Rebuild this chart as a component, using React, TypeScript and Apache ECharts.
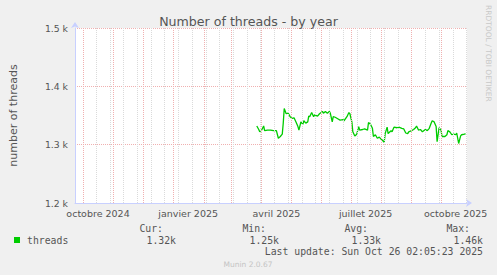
import React, { useEffect, useRef } from "react";
import * as echarts from "echarts";

const TITLE = "Number of threads - by year";
const Y_NAME = "number of threads";
const X_MIN = "2024-09-22T12:00:00";
const X_MAX = "2025-10-27T12:00:00";
const Y_TICKS = [1200, 1300, 1400, 1500];

const LABEL_DATES = ["2024-10-16", "2025-01-16", "2025-04-16", "2025-07-16", "2025-10-16"];
const LABEL_TEXTS = ["octobre 2024", "janvier 2025", "avril 2025", "juillet 2025", "octobre 2025"];

const MONTH_STARTS = [
  "2024-10-01", "2024-11-01", "2024-12-01", "2025-01-01", "2025-02-01", "2025-03-01",
  "2025-04-01", "2025-05-01", "2025-06-01", "2025-07-01", "2025-08-01", "2025-09-01", "2025-10-01",
];
const MINOR_START = "2024-10-14";

const DATES = [
  "2025-03-27", "2025-03-29", "2025-03-30", "2025-04-01", "2025-04-03", "2025-04-04", "2025-04-07",
  "2025-04-10", "2025-04-13", "2025-04-16", "2025-04-18", "2025-04-20", "2025-04-22", "2025-04-23",
  "2025-04-24", "2025-04-26", "2025-04-28", "2025-04-30", "2025-05-02", "2025-05-04", "2025-05-06",
  "2025-05-08", "2025-05-09", "2025-05-11", "2025-05-13", "2025-05-14", "2025-05-16", "2025-05-18",
  "2025-05-19", "2025-05-20", "2025-05-22", "2025-05-24", "2025-05-25", "2025-05-28", "2025-05-30",
  "2025-06-02", "2025-06-03", "2025-06-05", "2025-06-07", "2025-06-09", "2025-06-10", "2025-06-12",
  "2025-06-13", "2025-06-15", "2025-06-18", "2025-06-20", "2025-06-23", "2025-06-24", "2025-06-27",
  "2025-06-29", "2025-06-30", "2025-07-02", "2025-07-03", "2025-07-05", "2025-07-07", "2025-07-09",
  "2025-07-10", "2025-07-13", "2025-07-15", "2025-07-18", "2025-07-19", "2025-07-21", "2025-07-23",
  "2025-07-24", "2025-07-26", "2025-07-28", "2025-07-30", "2025-08-01", "2025-08-02", "2025-08-04",
  "2025-08-05", "2025-08-07", "2025-08-08", "2025-08-11", "2025-08-12", "2025-08-14", "2025-08-17",
  "2025-08-19", "2025-08-22", "2025-08-24", "2025-08-26", "2025-08-28", "2025-08-29", "2025-09-01",
  "2025-09-03", "2025-09-05", "2025-09-06", "2025-09-08", "2025-09-10", "2025-09-12", "2025-09-15",
  "2025-09-17", "2025-09-19", "2025-09-21", "2025-09-22", "2025-09-24", "2025-09-26", "2025-09-27",
  "2025-09-29", "2025-10-01", "2025-10-02", "2025-10-05", "2025-10-07", "2025-10-08", "2025-10-10",
  "2025-10-12", "2025-10-14", "2025-10-16", "2025-10-17", "2025-10-19", "2025-10-21", "2025-10-22",
  "2025-10-25", "2025-10-26",
];

const THREADS = [
  1332, 1326, 1322, 1325, 1332, 1324, 1325,
  1325, 1324, 1324, 1311, 1314, 1318, 1337,
  1362, 1353, 1354, 1348, 1345, 1346, 1339,
  1331, 1325, 1339, 1335, 1341, 1337, 1339,
  1349, 1348, 1355, 1348, 1351, 1349, 1353,
  1357, 1354, 1357, 1354, 1357, 1354, 1339,
  1348, 1347, 1344, 1342, 1343, 1341, 1348,
  1355, 1353, 1339, 1322, 1315, 1318, 1331,
  1325, 1326, 1327, 1325, 1338, 1335, 1328,
  1314, 1317, 1311, 1313, 1309, 1308, 1304,
  1319, 1330, 1319, 1324, 1322, 1330, 1329,
  1330, 1328, 1327, 1320, 1319, 1322, 1324,
  1326, 1329, 1332, 1325, 1326, 1322, 1326,
  1324, 1328, 1337, 1341, 1339, 1331, 1305,
  1329, 1325, 1314, 1314, 1317, 1324, 1322,
  1317, 1318, 1317, 1320, 1302, 1315, 1317,
  1318, 1319,
];

const LEGEND_NAME = "threads";
const STAT_HEADS = ["Cur:", "Min:", "Avg:", "Max:"];
const STAT_VALUES = ["1.32k", "1.25k", "1.33k", "1.46k"];
const LAST_UPDATE = "Last update: Sun Oct 26 02:05:23 2025";
const FOOTER = "Munin 2.0.67";
const WATERMARK = "RRDTOOL / TOBI OETIKER";

const toTs = (d: string) => new Date(d.length === 10 ? d + "T00:00:00" : d).getTime();

export default function App() {
  const ref = useRef<HTMLDivElement>(null);

  useEffect(() => {
    document.body.style.margin = "0";
    if (!ref.current) return;
    const chart = echarts.init(ref.current, null, { renderer: "svg" });

    const labelTs = LABEL_DATES.map(toTs);
    const minor: number[] = [];
    const day = 86400000;
    for (let t = toTs(MINOR_START); t < toTs(X_MAX); t += 14 * day) minor.push(t);

    const font = "DejaVu Sans";
    const mono = "DejaVu Sans Mono";
    const textColor = "#555555";
    const axisColor = "#c8d0ff";
    const red = "#f0b0b0";
    const grey = "#dadada";

    const statX = [163, 266, 368, 470];
    const valX = [176, 279, 381, 483];

    const graphics: any[] = [
      { type: "rect", shape: { x: 14, y: 237, width: 6, height: 6 }, style: { fill: "#00cc00" } },
      {
        type: "text",
        style: { text: LEGEND_NAME, x: 27, y: 240, font: `9.8px "${mono}"`, fill: textColor, verticalAlign: "middle" },
      },
      {
        type: "text",
        style: { text: LAST_UPDATE, x: 483, y: 251.5, font: `9.8px "${mono}"`, fill: textColor, align: "right", verticalAlign: "middle" },
      },
      {
        type: "text",
        style: { text: FOOTER, x: 248, y: 264.5, font: `7.5px "${font}"`, fill: "#c4c4c4", align: "center", verticalAlign: "middle" },
      },
      {
        type: "text",
        x: 488,
        y: 5,
        rotation: -Math.PI / 2,
        style: { text: WATERMARK, x: 0, y: 0, font: `7.5px "${font}"`, fill: "#c8c8c8", align: "left", verticalAlign: "middle" },
      },
    ];
    STAT_HEADS.forEach((h, i) => {
      graphics.push({
        type: "text",
        style: { text: h, x: statX[i], y: 228, font: `9.8px "${mono}"`, fill: textColor, align: "right", verticalAlign: "middle" },
      });
      graphics.push({
        type: "text",
        style: { text: STAT_VALUES[i], x: valX[i], y: 240, font: `9.8px "${mono}"`, fill: textColor, align: "right", verticalAlign: "middle" },
      });
    });

    chart.setOption({
      animation: false,
      backgroundColor: "#f0f0f0",
      textStyle: { fontFamily: font },
      title: {
        text: TITLE,
        left: "center",
        top: 10,
        textStyle: { fontFamily: font, fontSize: 12.6, fontWeight: "normal", color: textColor },
      },
      grid: {
        left: 67,
        top: 28,
        width: 400,
        height: 175,
        show: true,
        backgroundColor: "#ffffff",
        borderWidth: 0,
        containLabel: false,
      },
      xAxis: {
        type: "value",
        min: toTs(X_MIN),
        max: toTs(X_MAX),
        axisLine: {
          show: true,
          onZero: false,
          lineStyle: { color: axisColor, width: 1 },
          symbol: ["none", "arrow"],
          symbolSize: [6, 6],
          symbolOffset: [0, 5],
        },
        axisTick: { show: false },
        splitLine: { show: false },
        axisLabel: {
          customValues: labelTs,
          showMinLabel: true,
          showMaxLabel: true,
          hideOverlap: false,
          margin: 5,
          fontSize: 9.5,
          color: textColor,
          fontFamily: font,
          formatter: (v: number) => {
            let best = 0;
            labelTs.forEach((t, i) => {
              if (Math.abs(t - v) < Math.abs(labelTs[best] - v)) best = i;
            });
            return LABEL_TEXTS[best];
          },
        },
      },
      yAxis: {
        type: "value",
        min: Y_TICKS[0],
        max: Y_TICKS[Y_TICKS.length - 1],
        interval: 100,
        name: Y_NAME,
        nameLocation: "middle",
        nameRotate: 90,
        nameGap: 56,
        nameTextStyle: { fontSize: 11, color: textColor, fontFamily: font },
        axisLine: {
          show: true,
          lineStyle: { color: axisColor, width: 1 },
          symbol: ["none", "arrow"],
          symbolSize: [6, 6],
          symbolOffset: [0, 6],
        },
        axisTick: { show: false },
        axisLabel: {
          margin: 7,
          fontSize: 9.3,
          color: textColor,
          fontFamily: font,
          formatter: (v: number) => `${v / 1000} k`,
        },
        splitLine: { show: true, lineStyle: { color: red, type: [1, 1], width: 1 } },
      },
      series: [
        {
          type: "line",
          data: [],
          z: 1,
          silent: true,
          markLine: {
            silent: true,
            symbol: ["none", "none"],
            label: { show: false },
            animation: false,
            data: [
              ...minor.map((t) => ({ xAxis: t, lineStyle: { color: grey, type: [1, 1], width: 1 } })),
              ...MONTH_STARTS.map((d) => ({ xAxis: toTs(d), lineStyle: { color: red, type: [1, 1], width: 1 } })),
            ],
          },
        },
        {
          type: "line",
          name: LEGEND_NAME,
          z: 3,
          data: DATES.map((d, i) => [toTs(d), THREADS[i]]),
          showSymbol: false,
          symbol: "none",
          lineStyle: { color: "#00cc00", width: 1.3 },
        },
      ],
      graphic: graphics,
    });

    return () => chart.dispose();
  }, []);

  return <div ref={ref} style={{ width: 497, height: 275 }} />;
}
